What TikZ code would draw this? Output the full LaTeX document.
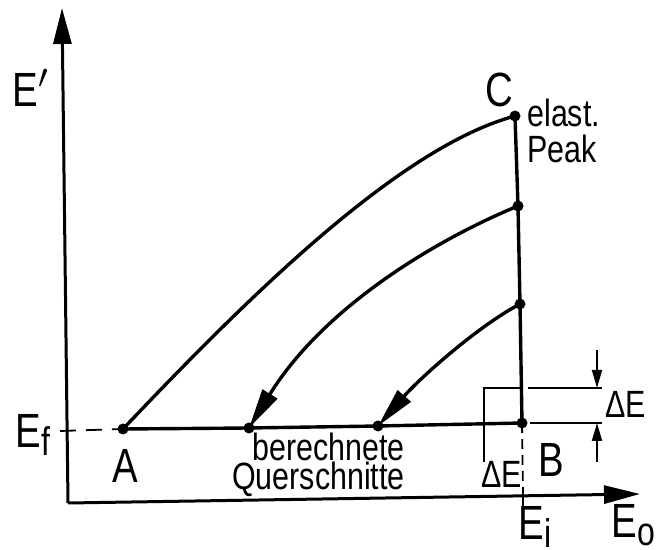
\documentclass[tikz,border=0pt]{standalone}
\usepackage{fontspec}
\setmainfont{Liberation Sans}[FakeStretch=0.8]
\usetikzlibrary{arrows.meta}
\newcommand\lowsub[1]{\raisebox{-4pt}{\fontsize{20}{20}\selectfont #1}}
\begin{document}
\begin{tikzpicture}[x=0.5pt,y=-0.5pt,
  axis/.style={line width=1.5pt, -{Triangle[length=18pt,width=9pt]}},
  main/.style={line width=1.7pt},
  flow/.style={line width=1.7pt, -{Triangle[length=20pt,width=8.5pt]}},
  thin/.style={line width=0.9pt},
  dimarrow/.style={line width=0.9pt, -{Triangle[length=9pt,width=5pt]}},
  dot/.style={circle, fill=black, inner sep=0pt, minimum size=5.5pt},
  big/.style={font=\fontsize{24}{26}\selectfont, inner sep=0pt, anchor=base west},
  small/.style={font=\fontsize{19}{21}\selectfont, inner sep=0pt, anchor=base west}]
\useasboundingbox (0,0) rectangle (659,550);
% reference points
\coordinate (O) at (68,503);
\coordinate (Ytip) at (62,8);
\coordinate (Xtip) at (640,494);
\coordinate (Ef) at (60,431);
\coordinate (A) at (123,429);
\coordinate (P2) at (249,428);
\coordinate (P3) at (378,426);
\coordinate (B) at (522,423);
\coordinate (C) at (515,116);
\coordinate (D2) at (518,206);
\coordinate (D3) at (520,304);
\coordinate (Bx) at (523,494);
\coordinate (Bt) at (523,506);
% axes
\draw[axis] (O) -- (Ytip);
\draw[axis] (O) -- (Xtip);
% dashed guides
\draw[thin, dash pattern=on 8pt off 5pt] (Ef) -- (A);
\draw[thin, dash pattern=on 5pt off 3pt] (B) -- (Bx);
\draw[thin] (Bx) -- (Bt);
% main lines
\draw[main] (A) -- (P2) -- (P3) -- (B);
\draw[main] (C) -- (D2) -- (D3) -- (B);
\draw[main] (A) .. controls (250,295) and (400,147) .. (C);
\draw[flow] (D2) .. controls (440,238) and (325,305) .. (P2);
\draw[flow] (D3) .. controls (478,326) and (420,378) .. (P3);
% Delta E box and dimension
\coordinate (Bl) at (484,388);
\coordinate (Blb) at (484,462);
\coordinate (Br) at (521,388);
\draw[thin] (Blb) -- (Bl) -- (Br);
\coordinate (T1) at (528,388);
\coordinate (T2) at (602,388);
\coordinate (U1) at (530,423);
\coordinate (U2) at (602,423);
\draw[thin] (T1) -- (T2);
\draw[thin] (U1) -- (U2);
\coordinate (Ta) at (597,350);
\coordinate (Tb) at (597,388);
\coordinate (Ua) at (597,462);
\coordinate (Ub) at (597,423);
\draw[dimarrow] (Ta) -- (Tb);
\draw[dimarrow] (Ua) -- (Ub);
% dots
\foreach \p in {A,P2,P3,B,C,D2,D3} \node[dot] at (\p) {};
% labels
\node[big] (lEp) at (12,107) {E$^{\prime}$};
\node[big] (lEf) at (15,448) {E\lowsub{f}};
\node[big] (lA) at (112,483) {A};
\node[big] (lB) at (538,477) {B};
\node[big] (lC) at (485,107) {C};
\node[big] (lEi) at (518,540) {E\lowsub{i}};
\node[big] (lEo) at (611,538) {E\lowsub{o}};
\node[small, anchor=base east] (lber) at (405,461) {berechnete};
\node[small, anchor=base east] (lque) at (405,490) {Querschnitte};
\node[small] (lel) at (527,127) {elast.};
\node[small] (lpk) at (527,163) {Peak};
\node[small] (ldE1) at (481,488) {ΔE};
\node[small] (ldE2) at (605,418) {ΔE};
\end{tikzpicture}
\end{document}
